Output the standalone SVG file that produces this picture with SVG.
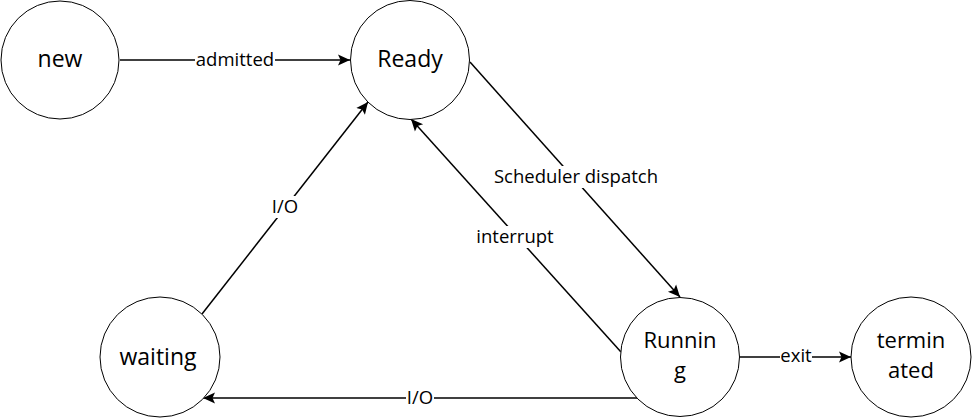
<svg xmlns="http://www.w3.org/2000/svg" width="972" height="419" viewBox="0 0 972 419">
<style>
.node circle{fill:#fff;stroke:#000;stroke-width:1}
.node text{font-family:"Open Sans","Noto Sans",sans-serif;font-size:23px;fill:#000;text-anchor:middle}
.node text.two{font-size:22px}
.edge line{stroke:#000;stroke-width:1.5;fill:none}
.lbl rect{fill:#fff}
.lbl text{font-family:"Open Sans","Noto Sans",sans-serif;font-size:18.5px;fill:#000;text-anchor:middle}
</style>
<defs>
<marker id="arr" markerUnits="userSpaceOnUse" markerWidth="13" markerHeight="13" viewBox="0 0 13 13" refX="12" refY="6.5" orient="auto">
<path d="M0,1 L12,6.5 L0,12 L2.5,6.5 Z" fill="#000"/>
</marker>
</defs>
<rect width="972" height="419" fill="#fff"/>
<g id="connectors">
<g class="edge" id="e-admitted"><line x1="120" y1="60" x2="350" y2="60" marker-end="url(#arr)"/></g>
<g class="edge" id="e-dispatch"><line x1="470" y1="62" x2="680" y2="297" marker-end="url(#arr)"/></g>
<g class="edge" id="e-interrupt"><line x1="621" y1="352" x2="411" y2="119" marker-end="url(#arr)"/></g>
<g class="edge" id="e-io-up"><line x1="202" y1="314" x2="368" y2="102" marker-end="url(#arr)"/></g>
<g class="edge" id="e-io-down"><line x1="637" y1="398" x2="203" y2="398" marker-end="url(#arr)"/></g>
<g class="edge" id="e-exit"><line x1="740" y1="357" x2="851" y2="357" marker-end="url(#arr)"/></g>
<g class="lbl">
<rect x="195" y="50" width="80" height="20"/><text x="235" y="66">admitted</text>
<rect x="491" y="166" width="170" height="22"/><text x="576" y="183">Scheduler dispatch</text>
<rect x="475" y="226" width="80" height="22"/><text x="515" y="243">interrupt</text>
<rect x="271" y="196" width="28" height="22"/><text x="285" y="213">I/O</text>
<rect x="406" y="388" width="28" height="20"/><text x="420" y="404">I/O</text>
<rect x="780" y="347" width="32" height="20"/><text x="796" y="362">exit</text>
</g>
</g>
<g id="new" class="node"><circle cx="60" cy="60" r="59"/><text x="60" y="67">new</text></g>
<g id="ready" class="node"><circle cx="410" cy="60" r="59.5"/><text x="410" y="67">Ready</text></g>
<g id="waiting" class="node"><circle cx="160" cy="357" r="60"/><text x="158" y="365">waiting</text></g>
<g id="running" class="node"><circle cx="680" cy="357" r="59.5"/><text class="two" x="680" y="348">Runnin<tspan x="680" dy="30">g</tspan></text></g>
<g id="terminated" class="node"><circle cx="911" cy="357" r="60"/><text class="two" x="911" y="348">termin<tspan x="911" dy="30">ated</tspan></text></g>
</svg>
